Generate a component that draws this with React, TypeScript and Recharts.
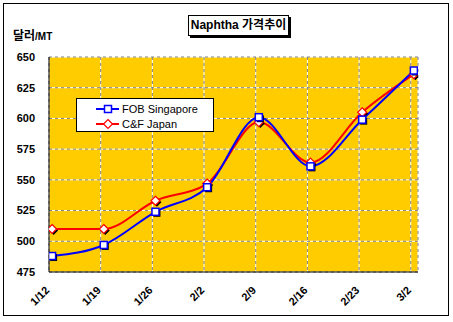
import React from 'react';
import { LineChart, Line, XAxis, YAxis, CartesianGrid } from 'recharts';

const categories = ['1/12', '1/19', '1/26', '2/2', '2/9', '2/16', '2/23', '3/2'];
const fobSingapore = [488, 497, 524, 544, 601, 561, 599, 639];
const cfJapan = [510, 510, 533, 547, 597, 564, 605, 636];
const yTicks = [475, 500, 525, 550, 575, 600, 625, 650];

// Excel puts the date ticks a hair left of the weekly points
const TICK_SHIFT = 0.06;
const xTicks = categories.map((_, i) => i - TICK_SHIFT);

const data = categories.map((c, i) => ({
  idx: i,
  label: c,
  fob: fobSingapore[i],
  cf: cfJapan[i],
}));

const FONT = '"Liberation Sans", Arial, "Noto Sans CJK KR", sans-serif';

function SquareDot(props: any) {
  const { cx, cy } = props;
  if (cx == null || cy == null) return null;
  return (
    <g>
      <rect x={cx - 2} y={cy - 2} width={7} height={7} fill="#000" />
      <rect x={cx - 3.5} y={cy - 3.5} width={7} height={7} fill="#fff" stroke="#0000ff" strokeWidth={1.5} />
    </g>
  );
}

function diamond(cx: number, cy: number, r: number) {
  return `${cx},${cy - r} ${cx + r},${cy} ${cx},${cy + r} ${cx - r},${cy}`;
}

function DiamondDot(props: any) {
  const { cx, cy } = props;
  if (cx == null || cy == null) return null;
  return (
    <g>
      <polygon points={diamond(cx + 1.5, cy + 1.5, 4.5)} fill="#000" />
      <polygon points={diamond(cx, cy, 4.5)} fill="#fff" stroke="#ff0000" strokeWidth={1.2} />
    </g>
  );
}

function XTick(props: any) {
  const { x, y, payload } = props;
  const i = Math.round(payload.value + TICK_SHIFT);
  const px = x + 1;
  const py = y + 19;
  return (
    <text
      x={px}
      y={py}
      transform={`rotate(-45 ${px} ${py})`}
      textAnchor="end"
      fontFamily={FONT}
      fontWeight="bold"
      fontSize={11}
      fill="#000"
    >
      {categories[i]}
    </text>
  );
}

function LegendBox() {
  const rows = [
    { name: 'FOB Singapore', color: '#0000ff', shape: 'square' },
    { name: 'C&F Japan', color: '#ff0000', shape: 'diamond' },
  ];
  return (
    <div
      style={{
        position: 'absolute',
        left: 76,
        top: 98,
        width: 136,
        height: 32,
        background: '#fff',
        border: '1px solid #000',
        fontFamily: FONT,
        fontSize: 11,
      }}
    >
      {rows.map((r, i) => (
        <div key={r.name} style={{ position: 'absolute', left: 19, top: 2 + i * 15, height: 15, display: 'flex', alignItems: 'center' }}>
          <svg width={24} height={12} style={{ marginRight: 2 }}>
            <line x1={0} y1={6} x2={23} y2={6} stroke={r.color} strokeWidth={2} />
            {r.shape === 'square' ? (
              <rect x={8.5} y={2.5} width={7} height={7} fill="#fff" stroke={r.color} strokeWidth={1.5} />
            ) : (
              <polygon points={diamond(12, 6, 4.5)} fill="#fff" stroke={r.color} strokeWidth={1.2} />
            )}
          </svg>
          <span>{r.name}</span>
        </div>
      ))}
    </div>
  );
}

export default function App() {
  return (
    <div style={{ position: 'absolute', left: 0, top: 0, width: 453, height: 322, background: '#fff' }}>
      <div
        style={{
          position: 'absolute',
          left: 3,
          top: 3,
          width: 444,
          height: 311,
          border: '1px solid #000',
        }}
      />
      <LineChart
        width={453}
        height={322}
        data={data}
        margin={{ top: 57, right: 35, bottom: 0, left: 0 }}
        style={{ position: 'absolute', left: 0, top: 0 }}
      >
        <CartesianGrid fill="#ffcc00" stroke="#ffffff" />
        <CartesianGrid fill="none" stroke="#808080" strokeDasharray="3 3" />
        <XAxis
          dataKey="idx"
          type="number"
          domain={[-TICK_SHIFT, 7.08]}
          ticks={xTicks}
          interval={0}
          height={50}
          tickSize={0}
          tickMargin={0}
          axisLine={{ stroke: '#000' }}
          tickLine={false}
          tick={<XTick />}
          allowDataOverflow
        />
        <YAxis
          domain={[475, 650]}
          ticks={yTicks}
          interval={0}
          width={49}
          tickSize={0}
          tickMargin={14}
          axisLine={{ stroke: '#000' }}
          tickLine={false}
          tick={{ fontFamily: FONT, fontWeight: 'bold', fontSize: 11, fill: '#000' }}
        />
        <YAxis
          yAxisId="right"
          orientation="right"
          domain={[475, 650]}
          width={0}
          tick={false}
          tickLine={false}
          axisLine={{ stroke: '#808080' }}
        />
        <Line
          type="monotone"
          dataKey="cf"
          stroke="#ff0000"
          strokeWidth={2}
          dot={<DiamondDot />}
          isAnimationActive={false}
        />
        <Line
          type="monotone"
          dataKey="fob"
          stroke="#0000ff"
          strokeWidth={2}
          dot={<SquareDot />}
          isAnimationActive={false}
        />
      </LineChart>
      <div
        style={{
          position: 'absolute',
          left: 188,
          top: 15,
          width: 99,
          height: 19,
          border: '1px solid #000',
          boxShadow: '2px 2px 0 #000',
          background: '#fff',
          fontFamily: FONT,
          fontWeight: 'bold',
          fontSize: 12,
          lineHeight: '19px',
          textAlign: 'center',
        }}
      >
        Naphtha 가격추이
      </div>
      <div
        style={{
          position: 'absolute',
          left: 13,
          top: 26,
          fontFamily: FONT,
          fontWeight: 'bold',
          whiteSpace: 'nowrap',
        }}
      >
        <span style={{ fontSize: 12 }}>달러</span>
        <span style={{ fontSize: 10 }}>/MT</span>
      </div>
      <LegendBox />
    </div>
  );
}
